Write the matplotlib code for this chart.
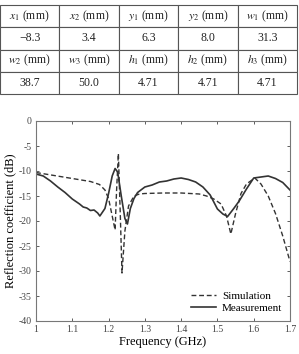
import numpy as np
import matplotlib
matplotlib.use("Agg")
import matplotlib.pyplot as plt

plt.rcParams['font.family'] = ['Liberation Serif', 'DejaVu Serif']
plt.rcParams['mathtext.fontset'] = 'stix'
plt.rcParams['axes.unicode_minus'] = False

# Table content
table_rows = [
    ["$x_1$ (mm)", "$x_2$ (mm)", "$y_1$ (mm)", "$y_2$ (mm)", "$w_1$ (mm)"],
    ["\u22128.3", "3.4", "6.3", "8.0", "31.3"],
    ["$w_2$ (mm)", "$w_3$ (mm)", "$h_1$ (mm)", "$h_2$ (mm)", "$h_3$ (mm)"],
    ["38.7", "50.0", "4.71", "4.71", "4.71"],
]

# Simulation curve
sim_f = [1.00, 1.05, 1.10, 1.15, 1.175, 1.19, 1.20, 1.21, 1.218, 1.222,
         1.227, 1.232, 1.237, 1.245, 1.255, 1.27, 1.285, 1.30, 1.35, 1.40,
         1.45, 1.47, 1.49, 1.51, 1.525, 1.537, 1.55, 1.565, 1.58, 1.603,
         1.62, 1.64, 1.66, 1.68, 1.70]
sim_db = [-10.3, -10.9, -11.5, -12.1, -12.7, -13.8, -15.5, -19.0, -21.8, -14.0,
          -6.5, -18.0, -30.4, -22.0, -17.0, -15.0, -14.6, -14.5, -14.4, -14.4,
          -14.6, -15.0, -15.6, -16.6, -19.0, -22.6, -18.5, -14.5, -12.6, -11.4,
          -12.6, -15.0, -18.5, -23.0, -28.1]

# Measurement curve
meas_f = [1.00, 1.02, 1.04, 1.06, 1.08, 1.10, 1.12, 1.13, 1.14, 1.15,
          1.16, 1.17, 1.176, 1.19, 1.20, 1.21, 1.218, 1.225, 1.235, 1.245,
          1.252, 1.26, 1.27, 1.28, 1.30, 1.32, 1.34, 1.36, 1.38, 1.40,
          1.42, 1.44, 1.46, 1.48, 1.50, 1.515, 1.528, 1.545, 1.56, 1.58,
          1.60, 1.62, 1.64, 1.66, 1.68, 1.70]
meas_db = [-10.6, -11.0, -12.0, -13.2, -14.3, -15.6, -16.6, -17.2, -17.4, -17.9,
           -17.8, -18.4, -19.0, -17.5, -14.5, -11.0, -9.5, -10.2, -15.0, -19.5,
           -20.6, -17.5, -15.5, -14.3, -13.2, -12.8, -12.2, -12.0, -11.6, -11.4,
           -11.7, -12.2, -13.2, -14.8, -17.6, -18.6, -19.1, -17.5, -16.0, -13.6,
           -11.4, -11.2, -11.0, -11.5, -12.3, -13.8]

xticks = [1, 1.1, 1.2, 1.3, 1.4, 1.5, 1.6, 1.7]
xticklabels = ["1", "1.1", "1.2", "1.3", "1.4", "1.5", "1.6", "1.7"]
yticks = [0, -5, -10, -15, -20, -25, -30, -35, -40]

fig = plt.figure(figsize=(2.99, 3.54), dpi=100)

# ==========================
# Parameter table
# ==========================
tax = fig.add_axes([0.0, 1 - 94 / 354, 297 / 299, 89 / 354])
tax.axis("off")
tbl = tax.table(cellText=table_rows, cellLoc="center", bbox=[0, 0, 1, 1])
tbl.auto_set_font_size(False)
for (r, c), cell in tbl.get_celld().items():
    cell.set_edgecolor("#555555")
    cell.set_linewidth(0.8)
    cell.get_text().set_fontsize(8.5)
    cell.get_text().set_color("#222222")

# ==========================
# Reflection coefficient plot
# ==========================
ax = fig.add_axes([36 / 299, 1 - 321 / 354, 254 / 299, 200 / 354])

ax.plot(sim_f, sim_db, color="#333333", lw=1.0, ls=(0, (3.5, 2)),
        label="Simulation")
ax.plot(meas_f, meas_db, color="#333333", lw=1.2, label="Measurement")

ax.set_xlim(1, 1.7)
ax.set_ylim(-40, 0)
ax.set_xticks(xticks)
ax.set_xticklabels(xticklabels)
ax.set_yticks(yticks)
ax.tick_params(direction="in", length=2.5, width=0.6, labelsize=7,
               top=True, right=True, colors="#444444", pad=3)
for sp in ax.spines.values():
    sp.set_color("#777777")
    sp.set_linewidth(0.8)

ax.set_xlabel("Frequency (GHz)", fontsize=9, labelpad=1)
ax.set_ylabel("Reflection coefficient (dB)", fontsize=9, labelpad=2)

ax.legend(loc="lower right", frameon=False, fontsize=8, handlelength=2.3,
          handletextpad=0.5, labelspacing=0.2, borderaxespad=0.3)

plt.savefig("out.png", dpi=100)
plt.close()
